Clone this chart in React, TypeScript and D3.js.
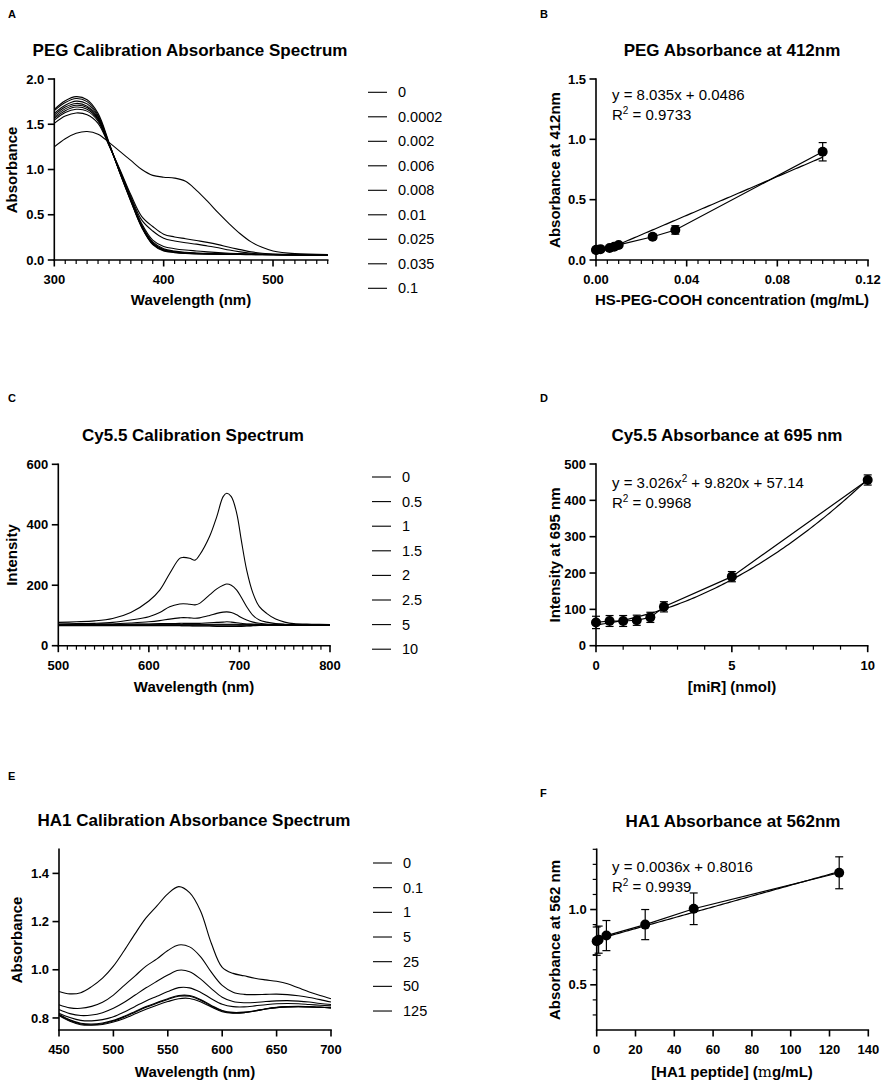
import React from "react";
import * as d3 from "d3";

const FONT = "'Liberation Sans', Arial, Helvetica, sans-serif";

// ---------- Panel A: PEG calibration absorbance spectrum ----------
const WL_A = [300, 310, 320, 330, 340, 350, 360, 370, 380, 390, 400, 410, 420, 430, 440, 450, 460, 470, 480, 490, 500, 520, 550];
const PEG_LEGEND = ["0", "0.0002", "0.002", "0.006", "0.008", "0.01", "0.025", "0.035", "0.1"];
const PEG_S0 = [1.665, 1.76, 1.805, 1.77, 1.62, 1.3, 0.96, 0.65, 0.36, 0.17, 0.1, 0.082, 0.073, 0.068, 0.065, 0.063, 0.061, 0.06, 0.059, 0.058, 0.057, 0.054, 0.05];
const PEG_S1 = [1.65, 1.74, 1.785, 1.75, 1.6, 1.29, 0.96, 0.65, 0.36, 0.175, 0.105, 0.085, 0.075, 0.07, 0.067, 0.064, 0.062, 0.061, 0.06, 0.059, 0.058, 0.055, 0.051];
const PEG_S2 = [1.62, 1.71, 1.755, 1.725, 1.585, 1.285, 0.965, 0.66, 0.37, 0.18, 0.11, 0.088, 0.078, 0.072, 0.069, 0.066, 0.064, 0.062, 0.061, 0.06, 0.059, 0.056, 0.052];
const PEG_S3 = [1.6, 1.69, 1.73, 1.7, 1.57, 1.28, 0.97, 0.665, 0.375, 0.19, 0.115, 0.092, 0.08, 0.074, 0.07, 0.067, 0.065, 0.063, 0.062, 0.061, 0.06, 0.057, 0.053];
const PEG_S4 = [1.58, 1.67, 1.71, 1.685, 1.56, 1.28, 0.975, 0.67, 0.38, 0.2, 0.125, 0.098, 0.085, 0.078, 0.073, 0.069, 0.066, 0.064, 0.063, 0.062, 0.061, 0.058, 0.054];
const PEG_S5 = [1.565, 1.65, 1.69, 1.665, 1.55, 1.275, 0.98, 0.68, 0.4, 0.22, 0.15, 0.125, 0.11, 0.1, 0.09, 0.082, 0.075, 0.07, 0.066, 0.064, 0.062, 0.059, 0.055];
const PEG_S6 = [1.545, 1.63, 1.665, 1.645, 1.535, 1.27, 0.99, 0.7, 0.44, 0.32, 0.24, 0.21, 0.19, 0.175, 0.155, 0.135, 0.11, 0.09, 0.075, 0.066, 0.06, 0.057, 0.054];
const PEG_S7 = [1.51, 1.59, 1.625, 1.605, 1.51, 1.265, 1.0, 0.72, 0.48, 0.37, 0.285, 0.255, 0.235, 0.215, 0.195, 0.17, 0.14, 0.115, 0.09, 0.075, 0.065, 0.06, 0.056];
const PEG_S8 = [1.25, 1.34, 1.4, 1.42, 1.39, 1.3, 1.2, 1.1, 1.0, 0.935, 0.915, 0.905, 0.87, 0.77, 0.65, 0.52, 0.4, 0.29, 0.2, 0.14, 0.1, 0.07, 0.06];
const PEG_SPECTRA = [PEG_S0, PEG_S1, PEG_S2, PEG_S3, PEG_S4, PEG_S5, PEG_S6, PEG_S7, PEG_S8];
const A_XTICKS = [300, 400, 500];
const A_XMINOR = [310, 320, 330, 340, 350, 360, 370, 380, 390, 410, 420, 430, 440, 450, 460, 470, 480, 490, 510, 520, 530, 540, 550];
const A_YTICKS = [0, 0.5, 1.0, 1.5, 2.0];
const A_YLABELS = ["0.0", "0.5", "1.0", "1.5", "2.0"];

// ---------- Panel B: PEG absorbance at 412nm ----------
const PEG_X = [0, 0.0002, 0.002, 0.006, 0.008, 0.01, 0.025, 0.035, 0.1];
const PEG_Y = [0.083, 0.085, 0.09, 0.1, 0.11, 0.125, 0.193, 0.249, 0.897];
const PEG_ERR = [0.01, 0.01, 0.01, 0.01, 0.01, 0.012, 0.02, 0.035, 0.076];
const PEG_FIT = [8.035, 0.0486]; // slope, intercept
const B_XTICKS = [0, 0.04, 0.08, 0.12];
const B_XLABELS = ["0.00", "0.04", "0.08", "0.12"];
const B_XMINOR = [0.005, 0.01, 0.015, 0.02, 0.025, 0.03, 0.035, 0.045, 0.05, 0.055, 0.06, 0.065, 0.07, 0.075, 0.085, 0.09, 0.095, 0.1, 0.105, 0.11, 0.115];
const B_YTICKS = [0, 0.5, 1.0, 1.5];
const B_YLABELS = ["0.0", "0.5", "1.0", "1.5"];

// ---------- Panel C: Cy5.5 calibration spectrum ----------
const WL_C = [500, 520, 540, 560, 580, 600, 612, 623, 634, 638, 645, 651, 656, 667, 675, 682, 686, 691, 697, 702, 708, 715, 722, 730, 740, 750, 760, 780, 800];
const CY_LEGEND = ["0", "0.5", "1", "1.5", "2", "2.5", "5", "10"];
const CY_0 = [71, 71, 71, 71, 71, 71, 71, 71, 71, 71, 71, 71, 71, 71, 71, 71, 71, 71, 71, 71, 71, 71, 71, 71, 71, 70, 70, 70, 70];
const CY_05 = [66, 66, 66, 66, 66, 66, 66, 66, 66, 66, 66, 65, 65, 65, 64, 64, 64, 64, 64, 64, 65, 66, 67, 67, 68, 68, 68, 68, 68];
const CY_1 = [67, 67, 67, 67, 67, 67, 67, 67, 67, 66, 66, 66, 66, 66, 65, 65, 65, 65, 65, 66, 66, 67, 67, 68, 68, 68, 68, 68, 68];
const CY_15 = [68, 68, 68, 68, 68, 69, 69, 69, 69, 69, 69, 69, 69, 69, 69, 69, 69, 69, 69, 69, 69, 69, 69, 69, 69, 69, 69, 69, 69];
const CY_2 = [69, 69, 69, 70, 71, 72, 73, 73, 74, 74, 74, 74, 74, 76, 77, 78, 79, 78, 76, 74, 72, 71, 70, 69, 69, 69, 69, 69, 69];
const CY_25 = [70, 70, 71, 72, 75, 79, 83, 88, 92, 93, 92, 91, 92, 100, 107, 111, 112, 110, 102, 93, 85, 78, 74, 71, 70, 69, 69, 69, 69];
const CY_5 = [72, 73, 74, 77, 85, 96, 110, 129, 138, 139, 137, 135, 140, 168, 188, 200, 204, 200, 184, 160, 129, 100, 85, 78, 73, 71, 70, 69, 69];
const CY_10 = [77, 79, 82, 90, 110, 148, 184, 239, 289, 292, 289, 283, 300, 361, 427, 493, 504, 493, 438, 350, 250, 173, 129, 107, 88, 78, 73, 71, 70];
const CY_SPECTRA = [CY_0, CY_05, CY_1, CY_15, CY_2, CY_25, CY_5, CY_10];
const C_XTICKS = [500, 600, 700, 800];
const C_XMINOR = [510, 520, 530, 540, 550, 560, 570, 580, 590, 610, 620, 630, 640, 650, 660, 670, 680, 690, 710, 720, 730, 740, 750, 760, 770, 780, 790];
const C_YTICKS = [0, 200, 400, 600];

// ---------- Panel D: Cy5.5 at 695 nm ----------
const MIR_X = [0, 0.5, 1, 1.5, 2, 2.5, 5, 10];
const MIR_Y = [64, 68, 68, 70, 78, 107, 190, 456];
const MIR_ERR = [17, 15, 15, 14, 14, 14, 14, 14];
const MIR_FIT = [3.026, 9.82, 57.14]; // a, b, c of quadratic
const D_XTICKS = [0, 5, 10];
const D_XMINOR = [1, 2, 3, 4, 6, 7, 8, 9];
const D_YTICKS = [0, 100, 200, 300, 400, 500];

// ---------- Panel E: HA1 calibration absorbance spectrum ----------
const WL_E = [450, 460, 470, 480, 490, 500, 510, 520, 530, 540, 550, 560, 570, 580, 590, 600, 610, 620, 630, 640, 650, 660, 670, 680, 690, 700];
const HA_LEGEND = ["0", "0.1", "1", "5", "25", "50", "125"];
const HA_0 = [0.81, 0.786, 0.772, 0.77, 0.773, 0.783, 0.798, 0.817, 0.836, 0.853, 0.868, 0.88, 0.881, 0.867, 0.845, 0.826, 0.82, 0.822, 0.829, 0.837, 0.843, 0.846, 0.847, 0.846, 0.844, 0.842];
const HA_01 = [0.812, 0.789, 0.775, 0.772, 0.776, 0.787, 0.804, 0.824, 0.844, 0.861, 0.877, 0.89, 0.89, 0.874, 0.849, 0.829, 0.821, 0.822, 0.829, 0.837, 0.843, 0.846, 0.847, 0.846, 0.844, 0.842];
const HA_1 = [0.815, 0.792, 0.778, 0.775, 0.779, 0.79, 0.807, 0.827, 0.847, 0.864, 0.88, 0.893, 0.893, 0.877, 0.852, 0.831, 0.823, 0.824, 0.83, 0.838, 0.844, 0.847, 0.848, 0.847, 0.845, 0.843];
const HA_5 = [0.82, 0.802, 0.79, 0.788, 0.793, 0.805, 0.825, 0.848, 0.87, 0.89, 0.91, 0.926, 0.925, 0.907, 0.88, 0.857, 0.847, 0.846, 0.85, 0.855, 0.859, 0.86, 0.859, 0.856, 0.853, 0.85];
const HA_25 = [0.835, 0.818, 0.81, 0.812, 0.822, 0.84, 0.865, 0.895, 0.925, 0.952, 0.978, 0.998, 0.992, 0.962, 0.922, 0.886, 0.868, 0.863, 0.864, 0.868, 0.871, 0.872, 0.87, 0.866, 0.86, 0.856];
const HA_50 = [0.855, 0.842, 0.84, 0.848, 0.865, 0.895, 0.935, 0.975, 1.015, 1.045, 1.08, 1.103, 1.095, 1.055, 0.99, 0.935, 0.907, 0.898, 0.897, 0.898, 0.899, 0.897, 0.892, 0.885, 0.876, 0.866];
const HA_125 = [0.91, 0.9, 0.905, 0.93, 0.965, 1.015, 1.08, 1.15, 1.215, 1.265, 1.315, 1.345, 1.32, 1.245, 1.11, 1.01, 0.985, 0.975, 0.965, 0.958, 0.952, 0.942, 0.925, 0.908, 0.893, 0.88];
const HA_SPECTRA = [HA_0, HA_01, HA_1, HA_5, HA_25, HA_50, HA_125];
const E_XTICKS = [450, 500, 550, 600, 650, 700];
const E_YTICKS = [0.8, 1.0, 1.2, 1.4];
const E_YLABELS = ["0.8", "1.0", "1.2", "1.4"];

// ---------- Panel F: HA1 at 562nm ----------
const HA1_X = [0, 1, 5, 25, 50, 125];
const HA1_Y = [0.79, 0.8, 0.827, 0.9, 1.005, 1.244];
const HA1_ERR = [0.094, 0.09, 0.1, 0.1, 0.105, 0.106];
const HA1_FIT = [0.0036, 0.8016];
const F_XTICKS = [0, 20, 40, 60, 80, 100, 120, 140];
const F_YTICKS = [0.5, 1.0];
const F_YLABELS = ["0.5", "1.0"];
const F_YMINOR = [0.3, 0.4, 0.6, 0.7, 0.8, 0.9, 1.1, 1.2, 1.3, 1.4];

type Lin = d3.ScaleLinear<number, number>;

function Axes(props: {
  x: Lin; y: Lin;
  xTicks: number[]; xLabels?: string[]; xMinor?: number[];
  yTicks: number[]; yLabels?: string[]; yMinor?: number[];
}) {
  const { x, y, xTicks, xLabels, xMinor = [], yTicks, yLabels, yMinor = [] } = props;
  const [x0, x1] = x.range();
  const [yb, yt] = y.range();
  const sw = 1.6;
  return (
    <g stroke="#000" strokeWidth={sw}>
      <line x1={x0} x2={x1} y1={yb} y2={yb} strokeLinecap="square" />
      <line x1={x0} x2={x0} y1={yb} y2={yt} strokeLinecap="square" />
      {xMinor.map((v) => (
        <line key={"xm" + v} x1={x(v)} x2={x(v)} y1={yb} y2={yb + 4} strokeWidth={1.2} />
      ))}
      {xTicks.map((v) => (
        <line key={"xt" + v} x1={x(v)} x2={x(v)} y1={yb} y2={yb + 6.5} />
      ))}
      {yMinor.map((v) => (
        <line key={"ym" + v} x1={x0 - 4} x2={x0} y1={y(v)} y2={y(v)} strokeWidth={1.2} />
      ))}
      {yTicks.map((v) => (
        <line key={"yt" + v} x1={x0 - 6.5} x2={x0} y1={y(v)} y2={y(v)} />
      ))}
      <g stroke="none" fill="#000" fontFamily={FONT} fontWeight="bold" fontSize={13}>
        {xTicks.map((v, i) => (
          <text key={"xl" + v} x={x(v)} y={yb + 24} textAnchor="middle">
            {xLabels ? xLabels[i] : String(v)}
          </text>
        ))}
        {yTicks.map((v, i) => (
          <text key={"yl" + v} x={x0 - 10} y={y(v) + 4.6} textAnchor="end">
            {yLabels ? yLabels[i] : String(v)}
          </text>
        ))}
      </g>
    </g>
  );
}

function Title({ x, y, text }: { x: number; y: number; text: string }) {
  return (
    <text x={x} y={y} textAnchor="middle" fontFamily={FONT} fontWeight="bold" fontSize={17}>
      {text}
    </text>
  );
}

function Letter({ x, y, text }: { x: number; y: number; text: string }) {
  return (
    <text x={x} y={y} fontFamily={FONT} fontWeight="bold" fontSize={11}>
      {text}
    </text>
  );
}

function XTitle({ x, y, children }: { x: number; y: number; children: React.ReactNode }) {
  return (
    <text x={x} y={y} textAnchor="middle" fontFamily={FONT} fontWeight="bold" fontSize={15}>
      {children}
    </text>
  );
}

function YTitle({ x, y, text }: { x: number; y: number; text: string }) {
  return (
    <text transform={`translate(${x + 5.2},${y}) rotate(-90)`} textAnchor="middle" fontFamily={FONT} fontWeight="bold" fontSize={15}>
      {text}
    </text>
  );
}

function Legend({ x, y, step, labels }: { x: number; y: number; step: number; labels: string[] }) {
  return (
    <g>
      {labels.map((l, i) => (
        <g key={l + i}>
          <line x1={x} x2={x + 19} y1={y + i * step} y2={y + i * step} stroke="#000" strokeWidth={1.1} />
          <text x={x + 30} y={y + i * step + 5} fontFamily={FONT} fontSize={14.5}>
            {l}
          </text>
        </g>
      ))}
    </g>
  );
}

function Spectra({ x, y, wl, series }: { x: Lin; y: Lin; wl: number[]; series: number[][] }) {
  const line = d3
    .line<number>()
    .x((_, i) => x(wl[i]))
    .y((d) => y(d))
    .curve(d3.curveCatmullRom.alpha(0.5));
  return (
    <g fill="none" stroke="#000" strokeWidth={1.1}>
      {series.map((s, i) => (
        <path key={i} d={line(s) || ""} />
      ))}
    </g>
  );
}

function Scatter({ x, y, xs, ys, errs, fit }: { x: Lin; y: Lin; xs: number[]; ys: number[]; errs: number[]; fit: (v: number) => number }) {
  const data = d3.line<number>().x((_, i) => x(xs[i])).y((d) => y(d));
  const [xmin, xmax] = d3.extent(xs) as [number, number];
  const fx = d3.range(0, 101).map((k) => xmin + ((xmax - xmin) * k) / 100);
  const fitLine = d3.line<number>().x((d) => x(d)).y((d) => y(fit(d)));
  return (
    <g>
      <path d={fitLine(fx) || ""} fill="none" stroke="#000" strokeWidth={1.2} />
      <path d={data(ys) || ""} fill="none" stroke="#000" strokeWidth={1.2} />
      {xs.map((v, i) => (
        <g key={i} stroke="#000" strokeWidth={1.2}>
          <line x1={x(v)} x2={x(v)} y1={y(ys[i] - errs[i])} y2={y(ys[i] + errs[i])} />
          <line x1={x(v) - 4} x2={x(v) + 4} y1={y(ys[i] - errs[i])} y2={y(ys[i] - errs[i])} />
          <line x1={x(v) - 4} x2={x(v) + 4} y1={y(ys[i] + errs[i])} y2={y(ys[i] + errs[i])} />
        </g>
      ))}
      {xs.map((v, i) => (
        <circle key={"c" + i} cx={x(v)} cy={y(ys[i])} r={5} fill="#000" />
      ))}
    </g>
  );
}

function Equation({ x, y, parts, r2 }: { x: number; y: number; parts: React.ReactNode; r2: string }) {
  return (
    <g fontFamily={FONT} fontSize={15} fill="#000">
      <text x={x} y={y}>{parts}</text>
      <text x={x} y={y + 20}>
        R<tspan dy={-6} fontSize={10}>2</tspan>
        <tspan dy={6}>{" = " + r2}</tspan>
      </text>
    </g>
  );
}

export default function App() {
  // Panel A
  const xA = d3.scaleLinear().domain([300, 550]).range([54.3, 327.7]);
  const yA = d3.scaleLinear().domain([0, 2]).range([260, 79]);
  // Panel B
  const xB = d3.scaleLinear().domain([0, 0.12]).range([596, 868]);
  const yB = d3.scaleLinear().domain([0, 1.5]).range([260, 79]);
  // Panel C
  const xC = d3.scaleLinear().domain([500, 800]).range([58.3, 330]);
  const yC = d3.scaleLinear().domain([0, 600]).range([645.7, 464.3]);
  // Panel D
  const xD = d3.scaleLinear().domain([0, 10]).range([596, 867.7]);
  const yD = d3.scaleLinear().domain([0, 500]).range([645.7, 464]);
  // Panel E
  const xE = d3.scaleLinear().domain([450, 700]).range([59, 331]);
  const yE = d3.scaleLinear().domain([0.75, 1.5]).range([1030, 849.3]);
  // Panel F
  const xF = d3.scaleLinear().domain([0, 140]).range([596.7, 868.3]);
  const yF = d3.scaleLinear().domain([0.2, 1.4]).range([1030, 849.3]);

  return (
    <svg width={885} height={1085} style={{ position: "absolute", left: 0, top: 0, background: "#fff" }}>
      <rect width={885} height={1085} fill="#fff" />

      {/* A */}
      <Letter x={8} y={18} text="A" />
      <Title x={190} y={56} text="PEG Calibration Absorbance Spectrum" />
      <Spectra x={xA} y={yA} wl={WL_A} series={PEG_SPECTRA} />
      <Axes x={xA} y={yA} xTicks={A_XTICKS} xMinor={A_XMINOR} yTicks={A_YTICKS} yLabels={A_YLABELS} />
      <XTitle x={191} y={305}>Wavelength (nm)</XTitle>
      <YTitle x={12} y={170} text="Absorbance" />
      <Legend x={368} y={92.3} step={24.5} labels={PEG_LEGEND} />

      {/* B */}
      <Letter x={540} y={18} text="B" />
      <Title x={732} y={56} text="PEG Absorbance at 412nm" />
      <Scatter x={xB} y={yB} xs={PEG_X} ys={PEG_Y} errs={PEG_ERR} fit={(v) => PEG_FIT[0] * v + PEG_FIT[1]} />
      <Axes x={xB} y={yB} xTicks={B_XTICKS} xLabels={B_XLABELS} xMinor={B_XMINOR} yTicks={B_YTICKS} yLabels={B_YLABELS} />
      <Equation x={612} y={100} parts={"y = 8.035x + 0.0486"} r2="0.9733" />
      <XTitle x={732} y={305}>HS-PEG-COOH concentration (mg/mL)</XTitle>
      <YTitle x={555} y={170} text="Absorbance at 412nm" />

      {/* C */}
      <Letter x={8} y={402} text="C" />
      <Title x={193} y={441} text="Cy5.5 Calibration Spectrum" />
      <Spectra x={xC} y={yC} wl={WL_C} series={CY_SPECTRA} />
      <Axes x={xC} y={yC} xTicks={C_XTICKS} xMinor={C_XMINOR} yTicks={C_YTICKS} />
      <XTitle x={194} y={692}>Wavelength (nm)</XTitle>
      <YTitle x={12} y={555} text="Intensity" />
      <Legend x={372} y={477} step={24.6} labels={CY_LEGEND} />

      {/* D */}
      <Letter x={540} y={402} text="D" />
      <Title x={727} y={441} text="Cy5.5 Absorbance at 695 nm" />
      <Scatter x={xD} y={yD} xs={MIR_X} ys={MIR_Y} errs={MIR_ERR} fit={(v) => MIR_FIT[0] * v * v + MIR_FIT[1] * v + MIR_FIT[2]} />
      <Axes x={xD} y={yD} xTicks={D_XTICKS} xMinor={D_XMINOR} yTicks={D_YTICKS} />
      <Equation
        x={612}
        y={488}
        parts={
          <>
            {"y = 3.026x"}
            <tspan dy={-6} fontSize={10}>2</tspan>
            <tspan dy={6}>{" + 9.820x + 57.14"}</tspan>
          </>
        }
        r2="0.9968"
      />
      <XTitle x={732} y={692}>[miR] (nmol)</XTitle>
      <YTitle x={555} y={555} text="Intensity at 695 nm" />

      {/* E */}
      <Letter x={8} y={780} text="E" />
      <Title x={194} y={826} text="HA1 Calibration Absorbance Spectrum" />
      <Spectra x={xE} y={yE} wl={WL_E} series={HA_SPECTRA} />
      <Axes x={xE} y={yE} xTicks={E_XTICKS} yTicks={E_YTICKS} yLabels={E_YLABELS} />
      <XTitle x={195} y={1077}>Wavelength (nm)</XTitle>
      <YTitle x={17} y={940} text="Absorbance" />
      <Legend x={373} y={863} step={24.67} labels={HA_LEGEND} />

      {/* F */}
      <Letter x={540} y={797} text="F" />
      <Title x={733} y={827} text="HA1 Absorbance at 562nm" />
      <Scatter x={xF} y={yF} xs={HA1_X} ys={HA1_Y} errs={HA1_ERR} fit={(v) => HA1_FIT[0] * v + HA1_FIT[1]} />
      <Axes x={xF} y={yF} xTicks={F_XTICKS} yTicks={F_YTICKS} yLabels={F_YLABELS} yMinor={F_YMINOR} />
      <Equation x={612} y={872} parts={"y = 0.0036x + 0.8016"} r2="0.9939" />
      <XTitle x={732} y={1077}>
        {"[HA1 peptide] ("}
        <tspan fontFamily="'DejaVu Serif', serif" fontWeight="normal">m</tspan>
        {"g/mL)"}
      </XTitle>
      <YTitle x={555} y={940} text="Absorbance at 562 nm" />
    </svg>
  );
}
